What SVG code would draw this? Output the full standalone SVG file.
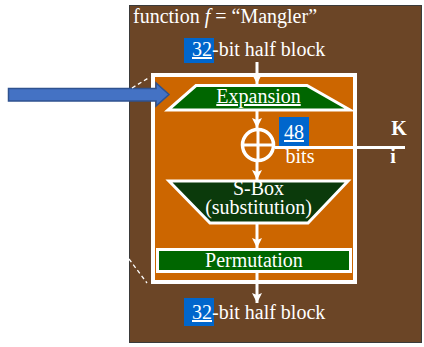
<svg xmlns="http://www.w3.org/2000/svg" width="424" height="347" viewBox="0 0 424 347">
<defs>
<style>
.t{font-family:"Liberation Serif","Times New Roman",serif;fill:#ffffff;font-size:20px}
.w{stroke:#ffffff;fill:none}
.blue{fill:#0066CC}
</style>
<marker id="ah" markerUnits="userSpaceOnUse" markerWidth="12" markerHeight="10" refX="10" refY="5" orient="auto">
<path d="M0,0 L10,5 L0,10 L2,5 Z" fill="#ffffff"/>
</marker>
</defs>
<rect x="0" y="0" width="424" height="347" fill="#ffffff"/>
<g id="mangler">
<rect x="129.5" y="5.5" width="292" height="337" fill="#6B4526" stroke="#3A3A3A" stroke-width="1"/>
<text class="t" x="133" y="23">function <tspan font-style="italic">f</tspan> = “Mangler”</text>
</g>
<g id="frame">
<rect x="153" y="75" width="202" height="207" fill="#CC6600" stroke="#ffffff" stroke-width="4"/>
</g>
<g id="input">
<rect class="blue" x="184" y="38" width="30" height="25"/>
<text class="t" x="192" y="56"><tspan text-decoration="underline">32</tspan>-bit half block</text>
</g>
<g id="expansion">
<polygon points="196,85.5 307,85.5 350,110 168,110" fill="#006600" stroke="#ffffff" stroke-width="3"/>
<text class="t" x="258.5" y="103" text-anchor="middle" text-decoration="underline">Expansion</text>
</g>
<g id="xor">
<circle cx="258" cy="145" r="15.5" fill="none" stroke="#ffffff" stroke-width="3.5"/>
<line x1="242.5" y1="145" x2="273.5" y2="145" stroke="#ffffff" stroke-width="3"/>
<line x1="258" y1="129.5" x2="258" y2="160.5" stroke="#ffffff" stroke-width="3"/>
</g>
<g id="key">
<rect class="blue" x="279" y="117" width="30" height="29"/>
<text class="t" x="294" y="139" text-anchor="middle" text-decoration="underline">48</text>
<text class="t" x="300" y="163" text-anchor="middle" font-size="19">bits</text>
<text class="t" x="399" y="135" text-anchor="middle" font-weight="bold">K</text>
<text class="t" x="393" y="163" text-anchor="middle" font-weight="bold" font-size="13">i</text>
</g>
<g id="sbox">
<polygon points="169,181 348,181 308,223 210,223" fill="#0B3A0B" stroke="#ffffff" stroke-width="3"/>
<text class="t" x="258.5" y="194.5" text-anchor="middle" font-size="17">S-Box</text>
<text class="t" x="258.5" y="214" text-anchor="middle" font-size="18">(substitution)</text>
</g>
<g id="permutation">
<rect x="157.5" y="249.5" width="193" height="22" fill="#006600" stroke="#ffffff" stroke-width="3"/>
<text class="t" x="254" y="267" text-anchor="middle">Permutation</text>
</g>
<g id="output">
<rect class="blue" x="184" y="298" width="30" height="28"/>
<text class="t" x="192" y="319"><tspan text-decoration="underline">32</tspan>-bit half block</text>
</g>
<g id="arrow-in">
<polygon points="8.5,88.5 156,88.5 156,83 169,94.5 156,106 156,101 8.5,101" fill="#4472C4" stroke="#2F528F" stroke-width="1.5"/>
</g>
<g id="connectors">
<line x1="257" y1="62" x2="257" y2="84" stroke="#ffffff" stroke-width="3" marker-end="url(#ah)"/>
<line x1="257" y1="111" x2="257" y2="128" stroke="#ffffff" stroke-width="3" marker-end="url(#ah)"/>
<line x1="257" y1="161" x2="257" y2="180" stroke="#ffffff" stroke-width="3" marker-end="url(#ah)"/>
<line x1="257" y1="224" x2="257" y2="248" stroke="#ffffff" stroke-width="3" marker-end="url(#ah)"/>
<line x1="257" y1="273" x2="257" y2="303" stroke="#ffffff" stroke-width="3" marker-end="url(#ah)"/>
<line x1="275" y1="147.5" x2="405" y2="147.5" stroke="#ffffff" stroke-width="3"/>
<line x1="132" y1="88" x2="150" y2="77" stroke="#ffffff" stroke-width="1.3" stroke-dasharray="4 3"/>
<line x1="129" y1="259" x2="147" y2="283" stroke="#ffffff" stroke-width="1.3" stroke-dasharray="4 3"/>
</g>
</svg>
